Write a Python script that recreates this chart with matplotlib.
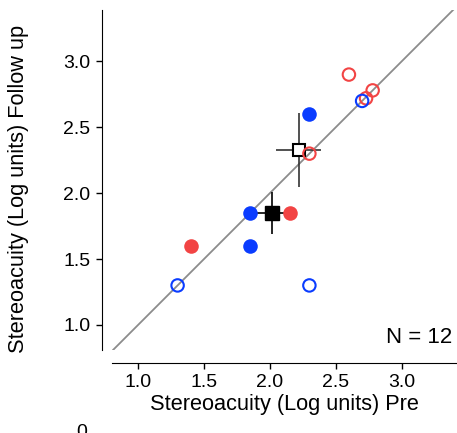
import matplotlib
matplotlib.use("Agg")
import matplotlib.pyplot as plt

plt.rcParams.update({
    "font.family": ["Liberation Sans", "DejaVu Sans"],
    "font.size": 14,
})

BLUE = "#0a3cff"
RED = "#f24444"

# filled symbols
blue_fill_x = [2.30, 1.85, 1.85]
blue_fill_y = [2.60, 1.85, 1.60]
red_fill_x = [2.15, 1.40]
red_fill_y = [1.85, 1.60]
# open symbols
red_open_x = [2.60, 2.78, 2.73, 2.30]
red_open_y = [2.90, 2.78, 2.72, 2.30]
blue_open_x = [2.70, 1.30, 2.30]
blue_open_y = [2.70, 1.30, 1.30]
# group means with error bars
mean_fill = (2.02, 1.85, 0.125, 0.16)
mean_open = (2.22, 2.33, 0.17, 0.28)

ticks = [1.0, 1.5, 2.0, 2.5, 3.0]

fig = plt.figure(figsize=(4.57, 4.33), dpi=100)
ax = fig.add_axes([111.7 / 457, 1 - 350 / 433, (457 - 111.7) / 457, 340 / 433])

ax.plot([0.8, 3.42], [0.8, 3.42], color="#8c8c8c", linewidth=1.3, zorder=1)

ax.errorbar(mean_fill[0], mean_fill[1], xerr=mean_fill[2], yerr=mean_fill[3],
            fmt="s", color="black", markersize=10, elinewidth=1.2, capsize=0, zorder=3)
ax.errorbar(mean_open[0], mean_open[1], xerr=mean_open[2], yerr=mean_open[3],
            fmt="s", color="black", markerfacecolor="white", markersize=8,
            markeredgewidth=1.5, ecolor="#333333", elinewidth=1.2, capsize=0, zorder=3)

ax.scatter(blue_fill_x, blue_fill_y, s=110, color=BLUE, zorder=4, linewidths=0)
ax.scatter(red_fill_x, red_fill_y, s=110, color=RED, zorder=4, linewidths=0)
ax.scatter(red_open_x, red_open_y, s=80, facecolors="none", edgecolors=RED,
           linewidths=1.5, zorder=4)
ax.scatter(blue_open_x, blue_open_y, s=80, facecolors="none", edgecolors=BLUE,
           linewidths=1.5, zorder=4)

ax.set_xlim(0.8, 3.42)
ax.set_ylim(0.81, 3.39)
ax.set_xticks(ticks)
ax.set_yticks(ticks)
ax.set_xticklabels([f"{t:.1f}" for t in ticks])
ax.set_yticklabels([f"{t:.1f}" for t in ticks])

for s in ["top", "right"]:
    ax.spines[s].set_visible(False)
ax.spines["left"].set_position(("outward", 7))
ax.spines["bottom"].set_position(("outward", 9))
ax.tick_params(direction="out", length=4.5, width=1, pad=4)

ax.set_xlabel("Stereoacuity (Log units) Pre", fontsize=15.7, labelpad=2)
ax.set_ylabel("Stereoacuity (Log units) Follow up", fontsize=15.7)
ax.yaxis.set_label_coords(-0.24, 0.475)

ax.text(0.985, 0.005, "N = 12", transform=ax.transAxes, ha="right", va="bottom",
        fontsize=16)

fig.text(82 / 457, 1 - 424 / 433, "0", ha="center", va="top", fontsize=14)

fig.savefig("out.png", dpi=100)
